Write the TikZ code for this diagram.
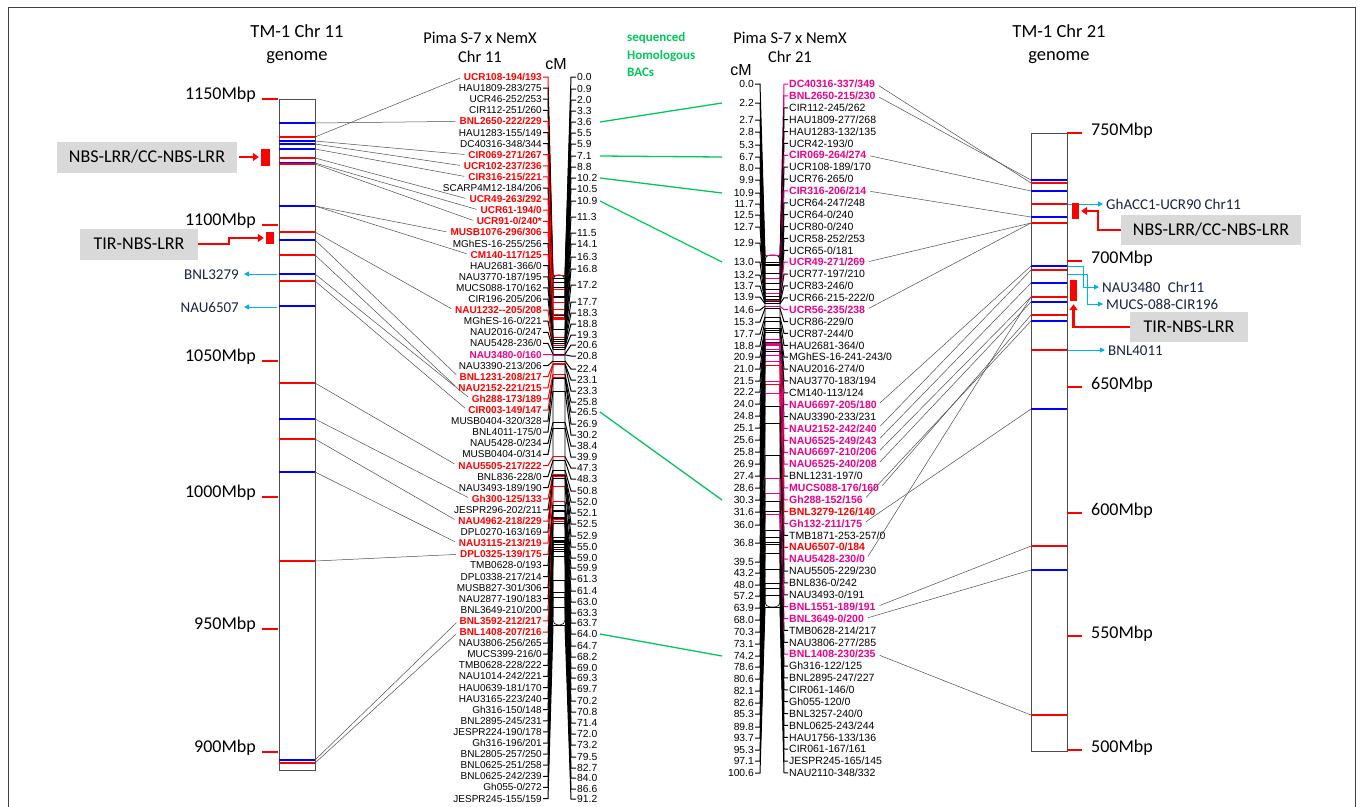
\documentclass[tikz,border=0pt]{standalone}
\usepackage{fontspec}
\setmainfont{Carlito}
\newfontfamily\mapfont{Liberation Sans}
\usetikzlibrary{arrows.meta}

\definecolor{bacgreen}{RGB}{0,200,90}
\definecolor{arrowcyan}{RGB}{0,176,240}
\definecolor{genegray}{RGB}{217,217,217}
\definecolor{labnavy}{RGB}{25,35,70}

\def\wblack{}
\def\wred{\bfseries}
\def\wmagenta{\bfseries}
\def\mapsz{10}

\tikzset{
  chrom/.style={draw=black!70, line width=0.9pt},
  band/.style={line width=1.5pt},
  syn/.style={draw=black!70, line width=0.5pt},
  bac/.style={draw=bacgreen, line width=1.3pt},
  mbptick/.style={draw=red, line width=2.5pt},
  mbp/.style={font=\fontsize{18}{20}\selectfont, inner sep=0pt},
  title/.style={font=\fontsize{18.5}{23}\selectfont, align=center},
  maptitle/.style={font=\fontsize{16.5}{19}\selectfont, align=center},
  genebox/.style={fill=genegray, font=\fontsize{18}{20}\selectfont, inner sep=0pt},
  redblock/.style={fill=red, inner sep=0pt},
  redarrow/.style={draw=red, line width=2.2pt, -{Triangle[length=6pt,width=8pt]}},
  cyanarrow/.style={draw=arrowcyan, line width=0.9pt, -{Triangle[length=5pt,width=5pt]}},
  smalllab/.style={font=\fontsize{15}{16}\selectfont, text=labnavy, inner sep=1pt},
  lab/.style={text=#1, font=\mapfont\csname w#1\endcsname\fontsize{\mapsz}{11}\selectfont, inner sep=1pt},
  cmlab/.style={font=\mapfont\fontsize{10.3}{11}\selectfont, inner sep=1pt},
  mapbar/.style={draw=black, fill=white, line width=0.6pt, rounded corners=5pt},
  mapline/.style={line width=1pt},
  barline/.style={line width=0.5pt}
}

\begin{document}
\begin{tikzpicture}[x=1pt, y=-1pt]
  \useasboundingbox (0,0) rectangle (1360,806);
  \draw[black!75, line width=0.8pt] (8,812) -- (8,7) -- (1355,7) -- (1355,812);

  % titles
  \node[title] (t11) at (297,44.5) {TM-1 Chr 11\\genome};
  \node[title] (t21) at (1059,44.5) {TM-1 Chr 21\\genome};
  \node[maptitle] (p11) at (480,47.5) {Pima S-7 x NemX\\Chr 11};
  \node[maptitle] (p21) at (790,47.5) {Pima S-7 x NemX\\Chr 21};
  \node[font=\mapfont\fontsize{16}{16}\selectfont, inner sep=0pt] (cm11) at (556,64) {cM};
  \node[font=\mapfont\fontsize{16}{16}\selectfont, inner sep=0pt] (cm21) at (741,70) {cM};
  \node[anchor=west, align=left, text=bacgreen, font=\bfseries\fontsize{13}{17.5}\selectfont, inner sep=0pt] (bacs) at (627,54.5) {sequenced\\Homologous\\BACs};

  % TM-1 Chr 11
  \draw[chrom, fill=white] (279,99) rectangle (315,770);
  \foreach \y/\col [count=\k] in {123/blue, 137/red, 141/blue, 144/blue, 149/blue, 158/red, 163/blue, 164/red,
      206/blue, 232/red, 240/blue, 255/red, 274/blue, 281/red, 306/blue, 383/red, 419/blue, 439/red,
      472/blue, 561/red, 760/blue, 763/red}{
    \draw[band, \col] (279,\y) -- (315,\y);
    \coordinate (L\k) at (315,\y);
  }
  \foreach \y/\t in {99/1150, 225/1100, 361/1050, 497/1000, 629/950, 752/900}{
    \draw[mbptick] (262,\y) -- (278,\y);
    \node[mbp, anchor=east] (m\t) at (256,\y-4) {\t Mbp};
  }

  % TM-1 Chr 21
  \draw[chrom, fill=white] (1031,133) rectangle (1067,751);
  \foreach \y/\col [count=\k] in {180/blue, 183/red, 191/blue, 204/red, 217/blue, 223/red, 266/blue, 270/red,
      283/blue, 297/red, 302/blue, 315/red, 321/blue, 350/red, 409/blue, 546/red, 570/blue, 715/red}{
    \draw[band, \col] (1031,\y) -- (1067,\y);
    \coordinate (R\k) at (1031,\y);
  }
  \foreach \y/\t in {133/750, 261/700, 387/650, 513/600, 636/550, 750/500}{
    \draw[mbptick] (1067,\y) -- (1082,\y);
    \node[mbp, anchor=west] (n\t) at (1091,\y-2) {\t Mbp};
  }

  % Pima S-7 x NemX Chr 11
  \draw[mapbar] (553,275) rectangle (565,625);
  \foreach \txt/\col/\cmv [count=\i] in {
      {UCR108-194/193}/red/0.0, {HAU1809-283/275}/black/0.9, {UCR46-252/253}/black/2.0,
      {CIR112-251/260}/black/3.3, {BNL2650-222/229}/red/3.6, {HAU1283-155/149}/black/5.5,
      {DC40316-348/344}/black/5.9, {CIR069-271/267}/red/7.1, {UCR102-237/236}/red/8.8,
      {CIR316-215/221}/red/10.2, {SCARP4M12-184/206}/black/10.5, {UCR49-263/292}/red/10.9,
      {UCR61-194/0}/red/11.3, {UCR91-0/240*}/red/11.3, {MUSB1076-296/306}/red/11.5,
      {MGhES-16-255/256}/black/14.1, {CM140-117/125}/red/16.3, {HAU2681-366/0}/black/16.8,
      {NAU3770-187/195}/black/17.2, {MUCS088-170/162}/black/17.2, {CIR196-205/206}/black/17.7,
      {NAU1232-{}-205/208}/red/18.3, {MGhES-16-0/221}/black/18.8, {NAU2016-0/247}/black/19.3,
      {NAU5428-236/0}/black/20.6, {NAU3480-0/160}/magenta/20.8, {NAU3390-213/206}/black/22.4,
      {BNL1231-208/217}/red/23.1, {NAU2152-221/215}/red/23.3, {Gh288-173/189}/red/25.8,
      {CIR003-149/147}/red/26.5, {MUSB0404-320/328}/black/26.9, {BNL4011-175/0}/black/30.2,
      {NAU5428-0/234}/black/38.4, {MUSB0404-0/314}/black/39.9, {NAU5505-217/222}/red/47.3,
      {BNL836-228/0}/black/48.3, {NAU3493-189/190}/black/50.8, {Gh300-125/133}/red/52.0,
      {JESPR296-202/211}/black/52.1, {NAU4962-218/229}/red/52.5, {DPL0270-163/169}/black/52.9,
      {NAU3115-213/219}/red/55.0, {DPL0325-139/175}/red/59.0, {TMB0628-0/193}/black/59.9,
      {DPL0338-217/214}/black/61.3, {MUSB827-301/306}/black/61.4, {NAU2877-190/183}/black/63.0,
      {BNL3649-210/200}/black/63.3, {BNL3592-212/217}/red/63.7, {BNL1408-207/216}/red/64.0,
      {NAU3806-256/265}/black/64.7, {MUCS399-216/0}/black/68.2, {TMB0628-228/222}/black/69.0,
      {NAU1014-242/221}/black/69.3, {HAU0639-181/170}/black/69.7, {HAU3165-223/240}/black/70.2,
      {Gh316-150/148}/black/70.8, {BNL2895-245/231}/black/71.4, {JESPR224-190/178}/black/72.0,
      {Gh316-196/201}/black/73.2, {BNL2805-257/250}/black/79.5, {BNL0625-251/258}/black/82.7,
      {BNL0625-242/239}/black/84.0, {Gh055-0/272}/black/86.6, {JESPR245-155/159}/black/91.2}{
    \pgfmathsetmacro\ly{77+11.1*(\i-1)}
    \pgfmathsetmacro\py{275+3.84*\cmv}
    \node[lab=\col, anchor=east] (a\i) at (543,\ly) {\txt};
    \draw[mapline, \col] (a\i.east) -- (548,\ly) -- (553,\py);
    \draw[barline, \col] (553,\py) -- (565,\py);
  }
  \foreach \cmv/\cy [count=\j] in {0.0/77, 0.9/89, 2.0/100, 3.3/111, 3.6/122, 5.5/133, 5.9/144, 7.1/156,
      8.8/167, 10.2/178, 10.5/189, 10.9/201, 11.3/217, 11.5/233, 14.1/244, 16.3/257, 16.8/269, 17.2/285,
      17.7/302, 18.3/313, 18.8/324, 19.3/335, 20.6/345, 20.8/356, 22.4/369, 23.1/380, 23.3/391, 25.8/402,
      26.5/412, 26.9/424, 30.2/435, 38.4/446, 39.9/457, 47.3/468, 48.3/479, 50.8/491, 52.0/502, 52.1/513,
      52.5/524, 52.9/536, 55.0/547, 59.0/558, 59.9/568, 61.3/579, 61.4/591, 63.0/602, 63.3/613, 63.7/623,
      64.0/634, 64.7/646, 68.2/657, 69.0/668, 69.3/678, 69.7/689, 70.2/701, 70.8/712, 71.4/723, 72.0/734,
      73.2/745, 79.5/757, 82.7/768, 84.0/778, 86.6/789, 91.2/799}{
    \pgfmathsetmacro\py{275+3.84*\cmv}
    \node[cmlab, anchor=west] (c\j) at (576,\cy) {\cmv};
    \draw[mapline] (565,\py) -- (571,\cy) -- (c\j.west);
  }

  % Pima S-7 x NemX Chr 21
  \def\mapsz{10.5}
  \draw[mapbar] (765,255) rectangle (780,607);
  \foreach \txt/\col/\cmv [count=\i] in {
      {DC40316-337/349}/magenta/0.0, {BNL2650-215/230}/magenta/2.2, {CIR112-245/262}/black/2.2,
      {HAU1809-277/268}/black/2.7, {HAU1283-132/135}/black/2.8, {UCR42-193/0}/black/5.3,
      {CIR069-264/274}/magenta/6.7, {UCR108-189/170}/black/8.0, {UCR76-265/0}/black/9.9,
      {CIR316-206/214}/magenta/10.9, {UCR64-247/248}/black/11.7, {UCR64-0/240}/black/12.5,
      {UCR80-0/240}/black/12.7, {UCR58-252/253}/black/12.9, {UCR65-0/181}/black/12.9,
      {UCR49-271/269}/magenta/13.0, {UCR77-197/210}/black/13.2, {UCR83-246/0}/black/13.7,
      {UCR66-215-222/0}/black/13.9, {UCR56-235/238}/magenta/14.6, {UCR86-229/0}/black/15.3,
      {UCR87-244/0}/black/17.7, {HAU2681-364/0}/black/18.8, {MGhES-16-241-243/0}/black/20.9,
      {NAU2016-274/0}/black/21.0, {NAU3770-183/194}/black/21.5, {CM140-113/124}/black/22.2,
      {NAU6697-205/180}/magenta/24.0, {NAU3390-233/231}/black/24.8, {NAU2152-242/240}/magenta/25.1,
      {NAU6525-249/243}/magenta/25.6, {NAU6697-210/206}/magenta/25.8, {NAU6525-240/208}/magenta/26.9,
      {BNL1231-197/0}/black/27.4, {MUCS088-176/160}/magenta/28.6, {Gh288-152/156}/magenta/30.3,
      {BNL3279-126/140}/red/31.6, {Gh132-211/175}/magenta/36.0, {TMB1871-253-257/0}/black/36.8,
      {NAU6507-0/184}/red/36.8, {NAU5428-230/0}/magenta/39.5, {NAU5505-229/230}/black/43.2,
      {BNL836-0/242}/black/48.0, {NAU3493-0/191}/black/57.2, {BNL1551-189/191}/magenta/63.9,
      {BNL3649-0/200}/magenta/68.0, {TMB0628-214/217}/black/70.3, {NAU3806-277/285}/black/73.1,
      {BNL1408-230/235}/magenta/74.2, {Gh316-122/125}/black/78.6, {BNL2895-247/227}/black/80.6,
      {CIR061-146/0}/black/82.1, {Gh055-120/0}/black/82.6, {BNL3257-240/0}/black/85.3,
      {BNL0625-243/244}/black/89.8, {HAU1756-133/136}/black/93.7, {CIR061-167/161}/black/95.3,
      {JESPR245-165/145}/black/97.1, {NAU2110-348/332}/black/100.6}{
    \pgfmathsetmacro\ly{84+11.879*(\i-1)}
    \pgfmathsetmacro\py{255+3.5*\cmv}
    \node[lab=\col, anchor=west] (b\i) at (788,\ly) {\txt};
    \draw[mapline, \col] (b\i.west) -- (784,\ly) -- (780,\py);
    \draw[barline, \col] (780,\py) -- (765,\py);
  }
  \foreach \cmv/\cy [count=\j] in {0.0/84, 2.2/103, 2.7/120, 2.8/132, 5.3/145, 6.7/157, 8.0/168, 9.9/180,
      10.9/193, 11.7/204, 12.5/215, 12.7/227, 12.9/243, 13.0/262, 13.2/275, 13.7/286, 13.9/297, 14.6/310,
      15.3/322, 17.7/334, 18.8/346, 20.9/357, 21.0/369, 21.5/381, 22.2/392, 24.0/404, 24.8/416, 25.1/428,
      25.6/440, 25.8/452, 26.9/464, 27.4/476, 28.6/488, 30.3/500, 31.6/512, 36.0/525, 36.8/543, 39.5/562,
      43.2/573, 48.0/585, 57.2/596, 63.9/608, 68.0/620, 70.3/632, 73.1/644, 74.2/656, 78.6/667, 80.6/679,
      82.1/691, 82.6/703, 85.3/714, 89.8/727, 93.7/738, 95.3/750, 97.1/761, 100.6/773}{
    \pgfmathsetmacro\py{255+3.5*\cmv}
    \node[cmlab, anchor=east] (e\j) at (755,\cy) {\cmv};
    \draw[mapline] (e\j.east) -- (760,\cy) -- (765,\py);
  }

  % genome to map
  \foreach \k/\i in {2/1, 1/5, 3/8, 4/9, 5/10, 6/12, 7/13, 8/14, 9/15, 9/17, 10/22, 11/28, 12/29,
      13/30, 14/31, 16/36, 17/39, 18/41, 19/43, 20/44, 21/50, 22/51}
    \draw[syn, shorten >=3pt] (L\k) -- (a\i.west);
  \foreach \i/\k in {1/2, 2/1, 7/3, 10/5, 16/6, 20/6, 28/7, 30/8, 31/9, 32/10, 33/11, 35/12, 36/13,
      38/15, 41/10, 45/16, 46/17, 49/18}
    \draw[syn, shorten <=3pt] (b\i.east) -- (R\k);

  % homologous BACs
  \coordinate (gl) at (600,0);
  \coordinate (gr) at (722,0);
  \foreach \j/\k in {5/2, 8/6, 10/9, 12/14, 29/34, 49/46}
    \draw[bac] (c\j.east -| gl) -- (e\k.west -| gr);

  % R genes, Chr 11
  \node[genebox, minimum width=180pt, minimum height=31pt] (nbsL) at (147,157) {NBS-LRR/CC-NBS-LRR};
  \node[redblock, minimum width=9pt, minimum height=17pt] (blkL1) at (265.5,157) {};
  \draw[redarrow, shorten <=2pt, shorten >=2pt] (nbsL.east) -- (blkL1.west);
  \node[genebox, minimum width=118pt, minimum height=31pt] (tirL) at (139,244) {TIR-NBS-LRR};
  \node[redblock, minimum width=8pt, minimum height=12pt] (blkL2) at (270,238) {};
  \draw[redarrow, shorten >=2pt] (tirL.east) -- ++(31,0) |- (blkL2.west);
  \node[smalllab, anchor=east] (bnl3279) at (240,275) {BNL3279};
  \node[smalllab, anchor=east] (nau6507) at (240,307) {NAU6507};
  \coordinate (cL1) at (277,274);
  \coordinate (cL2) at (277,307);
  \draw[cyanarrow, shorten >=4pt] (cL1) -- (cL1 -| bnl3279.east);
  \draw[cyanarrow, shorten >=4pt] (cL2) -- (cL2 -| nau6507.east);

  % R genes, Chr 21
  \node[smalllab, anchor=west] (ghacc) at (1105,204) {GhACC1-UCR90 Chr11};
  \node[smalllab, anchor=west] (nau3480) at (1101,287) {NAU3480\enspace Chr11};
  \node[smalllab, anchor=west] (mucs) at (1105,304) {MUCS-088-CIR196};
  \node[smalllab, anchor=west] (bnl4011) at (1107,351) {BNL4011};
  \coordinate (cR1) at (1068,204);
  \coordinate (cR2) at (1068,266);
  \coordinate (cR3) at (1068,274);
  \coordinate (cR4) at (1068,350);
  \draw[cyanarrow, shorten >=2pt] (cR1) -- (cR1 -| ghacc.west);
  \draw[cyanarrow, shorten >=2pt] (cR2) -- ++(15,0) |- (nau3480.west);
  \draw[cyanarrow, shorten >=2pt] (cR3) -- ++(19,0) |- (mucs.west);
  \draw[cyanarrow, shorten >=2pt] (cR4) -- (cR4 -| bnl4011.west);
  \node[redblock, minimum width=7pt, minimum height=16pt] (blkR1) at (1075.5,211) {};
  \node[genebox, minimum width=180pt, minimum height=30pt] (nbsR) at (1211,230) {NBS-LRR/CC-NBS-LRR};
  \draw[redarrow, shorten >=2pt] (nbsR.west) -- ++(-23,0) |- (blkR1.east);
  \node[redblock, minimum width=7pt, minimum height=21pt] (blkR2) at (1073.5,290.5) {};
  \node[genebox, minimum width=118pt, minimum height=30pt] (tirR) at (1189,327) {TIR-NBS-LRR};
  \draw[redarrow, shorten >=3pt] (tirR.west) -| (blkR2.south);
\end{tikzpicture}
\end{document}
